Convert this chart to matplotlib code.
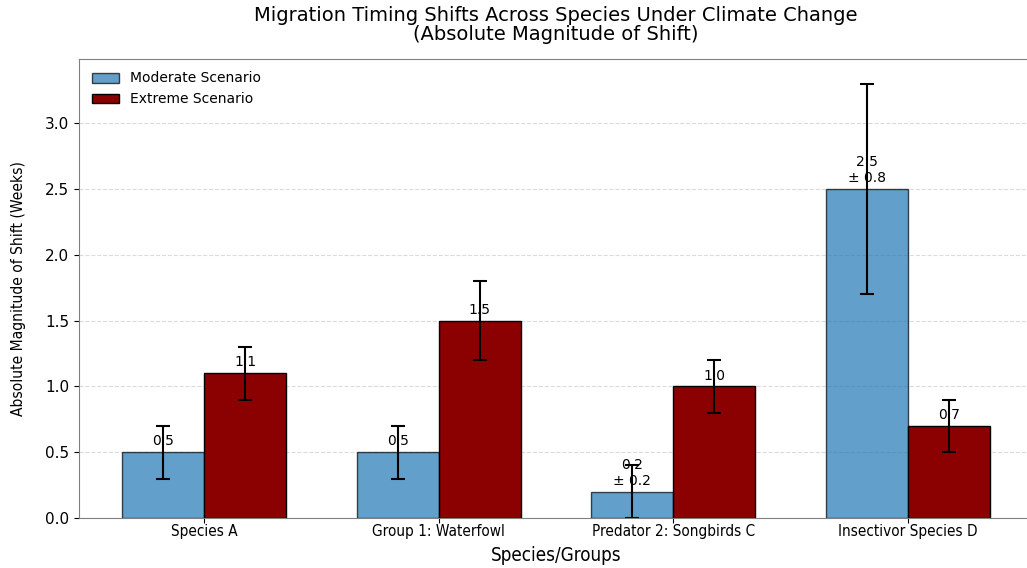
import numpy as np
import matplotlib.pyplot as plt

# 数据
groups = ["Species A", "Group 1: Waterfowl", "Predator 2: Songbirds C", "Insectivor Species D"]
moderate = [0.5, 0.5, 0.2, 2.5]
moderate_err = [0.2, 0.2, 0.2, 0.8]
extreme = [1.1, 1.5, 1.0, 0.7]
extreme_err = [0.2, 0.3, 0.2, 0.2]
moderate_labels = ["0.5", "0.5", "0.2\n± 0.2", "2.5\n± 0.8"]
extreme_labels = ["1.1", "1.5", "1.0", "0.7"]

x = np.arange(len(groups))
width = 0.35

fig = plt.figure(figsize=(10.27, 5.68), dpi=100)
ax = fig.add_axes([79 / 1027, 50 / 568, (1033 - 79) / 1027, 459 / 568])

b1 = ax.bar(x - width / 2, moderate, width, yerr=moderate_err, capsize=5,
            color="#1f77b4", alpha=0.7, edgecolor="black", label="Moderate Scenario",
            error_kw=dict(ecolor="black", elinewidth=1.5, capthick=1.5))
b2 = ax.bar(x + width / 2, extreme, width, yerr=extreme_err, capsize=5,
            color="#8b0000", edgecolor="black", label="Extreme Scenario",
            error_kw=dict(ecolor="black", elinewidth=1.5, capthick=1.5))

# 数值标签
for rect, lab in zip(b1, moderate_labels):
    ax.text(rect.get_x() + rect.get_width() / 2, rect.get_height() + 0.03, lab,
            ha="center", va="bottom", fontsize=10)
for rect, lab in zip(b2, extreme_labels):
    ax.text(rect.get_x() + rect.get_width() / 2, rect.get_height() + 0.03, lab,
            ha="center", va="bottom", fontsize=10)

ax.set_xticks(x)
ax.set_xticklabels(groups, fontsize=11, fontstretch="condensed")
ax.tick_params(axis="x", pad=1)
ax.tick_params(axis="y", labelsize=11)
ax.set_xlim(-0.535, 3.535)
ax.set_ylim(0, 3.49)
ax.set_xlabel("Species/Groups", fontsize=13.5, fontstretch="condensed", labelpad=5)
ax.set_ylabel("Absolute Magnitude of Shift (Weeks)", fontsize=11.2, fontstretch="condensed",
              labelpad=14)
ax.set_title("Migration Timing Shifts Across Species Under Climate Change\n(Absolute Magnitude of Shift)",
             fontsize=14, pad=14, linespacing=0.95)
ax.yaxis.grid(True, linestyle="--", color="lightgray", alpha=0.8)
ax.set_axisbelow(True)
for s in ax.spines.values():
    s.set_color("gray")
ax.legend(loc="upper left", fontsize=10, frameon=False)

plt.savefig("out.png", dpi=100)
